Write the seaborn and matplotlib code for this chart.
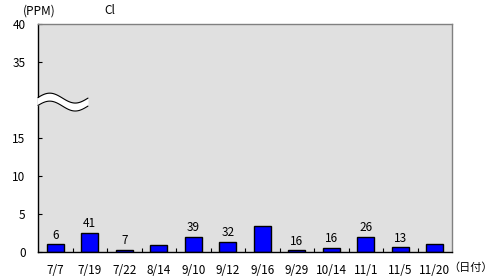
import matplotlib
matplotlib.use('Agg')
import matplotlib.pyplot as plt
import seaborn as sns
import numpy as np
import pandas as pd

dates = ['7/7', '7/19', '7/22', '8/14', '9/10', '9/12', '9/16', '9/29', '10/14', '11/1', '11/5', '11/20']
values = [1.0, 2.5, 0.3, 0.9, 2.0, 1.3, 3.4, 0.2, 0.5, 2.0, 0.6, 1.0]
counts = ['6', '41', '7', '', '39', '32', '', '16', '16', '26', '13', '']
ytick_values = [0, 5, 10, 15, 35, 40]
ytick_labels = ['0', '5', '10', '15', '35', '40']
unit_label = '(PPM)'
title = 'Cl'
xunit = '（日付）'

BREAK_LO, BREAK_HI = 15, 25  # values above 15 compressed by 10 units


def to_axis(v):
    return v if v <= BREAK_LO else v - (BREAK_HI - BREAK_LO)


sns.set_theme(style='white')
plt.rcParams['font.family'] = ['Liberation Sans Narrow', 'Noto Sans CJK JP', 'DejaVu Sans']
plt.rcParams['text.color'] = 'black'
plt.rcParams['xtick.labelcolor'] = 'black'
plt.rcParams['ytick.labelcolor'] = 'black'

fig = plt.figure(figsize=(4.91, 2.78), dpi=100)
W, H = 491, 278
ax = fig.add_axes([38 / W, 1 - 252 / H, (452 - 38) / W, (252 - 24) / H])
ax.set_facecolor('#E0E0E0')

df = pd.DataFrame({'date': dates, 'value': values})
sns.barplot(data=df, x='date', y='value', color='#0000FF', saturation=1,
            edgecolor='black', linewidth=1.0, width=0.5, ax=ax)

ax.set_xlim(-0.5, len(dates) - 0.5)
ax.set_ylim(0, to_axis(40))
ax.set_yticks([to_axis(v) for v in ytick_values])
ax.set_yticklabels(ytick_labels, fontsize=8.5)
ax.set_xticks(range(len(dates)))
ax.set_xticklabels(dates, fontsize=8.5)
ax.set_xlabel('')
ax.set_ylabel('')
ax.tick_params(axis='y', direction='in', length=3, width=0.8, color='black', pad=9, left=True,
               labelcolor='black')
ax.tick_params(axis='x', which='major', length=0, pad=9, labelcolor='black')
ax.set_xticks(np.arange(0.5, len(dates) - 1, 1.0), minor=True)
ax.tick_params(axis='x', which='minor', direction='in', length=3, width=0.8, color='black', bottom=True)

for s in ['left', 'bottom']:
    ax.spines[s].set_color('black')
    ax.spines[s].set_linewidth(1.0)
for s in ['top', 'right']:
    ax.spines[s].set_color('#808080')
    ax.spines[s].set_linewidth(1.0)

for i, (v, c) in enumerate(zip(values, counts)):
    if c:
        ax.annotate(c, (i, v), xytext=(0, 2), textcoords='offset points',
                    ha='center', va='bottom', fontsize=8.5, color='black')

# axis break wave
t = np.linspace(0, 1, 100)
xw = -0.53 + t * (50 / 34.5 + 0.03)
c = 20.25
A = 0.65
upper = c + A * np.sin(2 * np.pi * t)
lower = upper - 1.05
ax.fill_between(xw, lower, upper, color='white', zorder=5, clip_on=False, linewidth=0)
ax.plot(xw[2:], upper[2:], color='black', lw=0.8, zorder=6, clip_on=False)
ax.plot(xw[2:], lower[2:], color='black', lw=0.8, zorder=6, clip_on=False)

fig.text(23 / W, 1 - 11 / H, unit_label, fontsize=8.5, ha='left', va='center', color='black')
fig.text(110 / W, 1 - 11 / H, title, fontsize=8.5, ha='center', va='center', color='black')
fig.text(448 / W, 1 - 268 / H, xunit, fontsize=8, ha='left', va='center', color='black',
         family=['Noto Sans CJK JP'])

fig.savefig('out.png', dpi=100)
